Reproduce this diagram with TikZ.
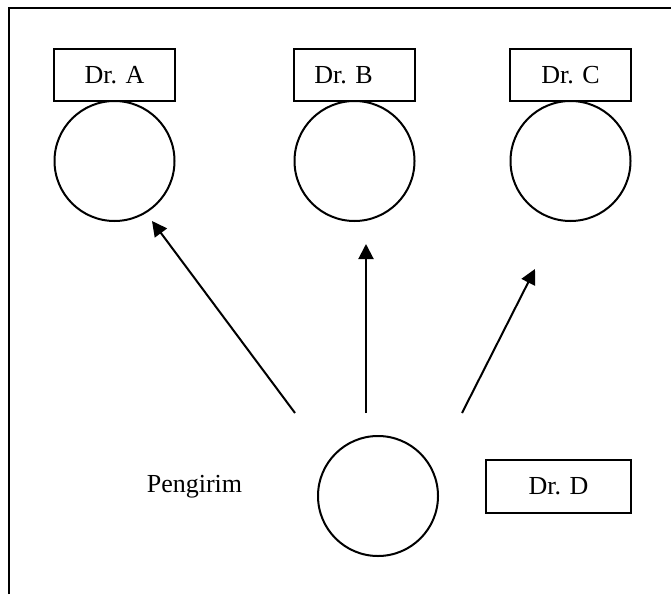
\documentclass[tikz,border=0pt]{standalone}
\usepackage{fontspec}
\setmainfont{Liberation Serif}
\usepackage{tikz}
\usetikzlibrary{arrows.meta}

\tikzset{
  namebox/.style={draw,line width=2pt,minimum width=121pt,minimum height=52pt,inner sep=0pt},
  person/.style={draw,circle,line width=2pt,minimum size=120pt,inner sep=0pt},
  sendarrow/.style={line width=2pt,-{Triangle[length=15pt,width=15pt]}}
}

\begin{document}
\begin{tikzpicture}[line cap=butt,line join=miter,x=1pt,y=-1pt,font=\fontsize{26}{30}\selectfont]
\useasboundingbox (0,0) rectangle (671,594);
% frame
\draw[line width=2pt] (9,594) -- (9,8) -- (671,8);
% receivers
\node[namebox] (drA) at (114.5,75) {Dr. A};
\node[namebox] (drB) at (354,75) {Dr. B\kern21pt\relax};
\node[namebox] (drC) at (570.5,75) {Dr. C};
\node[person] (recA) at (114.5,161) {};
\node[person] (recB) at (354.5,161) {};
\node[person] (recC) at (570.5,161) {};
% sender
\node[person] (sender) at (378,496) {};
\node (pengirim) at (194.5,487) {Pengirim};
\node[namebox,minimum width=145pt,minimum height=53pt] (drD) at (558.5,486.5) {Dr. D};
% arrows
\coordinate (fromA) at (295,413);
\coordinate (toA) at (152,221);
\coordinate (fromB) at (366,413);
\coordinate (toB) at (366,244);
\coordinate (fromC) at (462,413);
\coordinate (toC) at (535,269);
\draw[sendarrow] (fromA) -- (toA);
\draw[sendarrow] (fromB) -- (toB);
\draw[sendarrow] (fromC) -- (toC);
\end{tikzpicture}
\end{document}
